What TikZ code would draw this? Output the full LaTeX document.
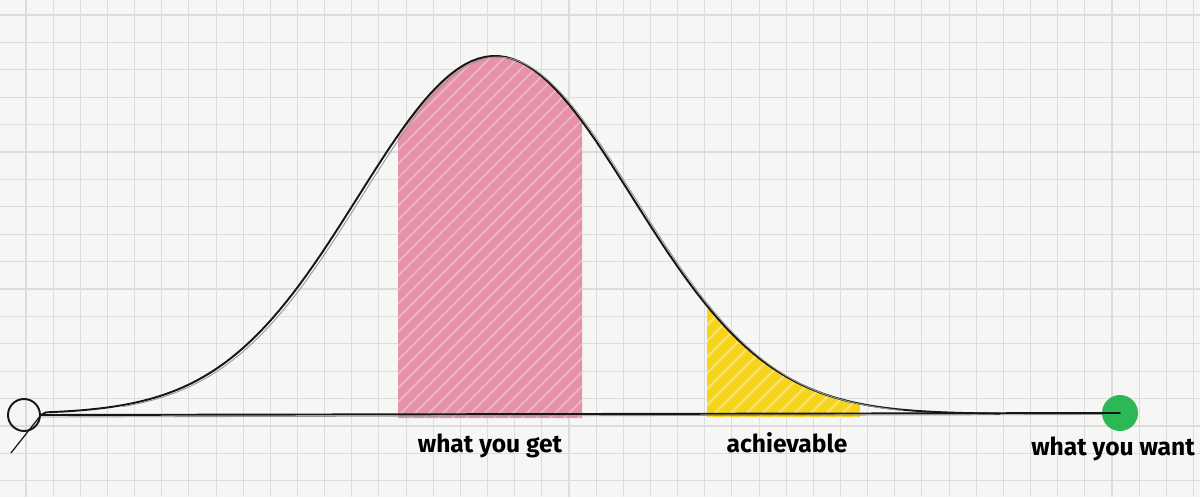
\documentclass[tikz,border=0pt]{standalone}
\usepackage{fontspec}
\setmainfont{Fira Sans}
\usetikzlibrary{positioning}

\definecolor{paper}{RGB}{246,246,245}
\definecolor{gridline}{RGB}{220,220,220}
\definecolor{pinkfill}{RGB}{230,145,168}
\definecolor{yellowfill}{RGB}{247,212,28}
\definecolor{greenfill}{RGB}{44,184,84}
\definecolor{pencil}{RGB}{22,22,22}

\begin{document}
\begin{tikzpicture}[
        x=0.02cm, y=-0.02cm,
        declare function={bell(\t)=414-358*exp(-0.5*((\t-495)/137)^2);},
        pen/.style={draw=pencil, line width=1.1pt, line cap=round},
        ghost/.style={draw=pencil!45, line width=0.5pt, line cap=round},
        hatch/.style={line width=1.2pt, line cap=round},
        handtext/.style={font=\bfseries\fontsize{14}{16}\selectfont, inner sep=0pt, anchor=base},
    ]
    % paper and grid
    \fill[paper] (0,0) rectangle (1200,497);
    \useasboundingbox (0,0) rectangle (1200,497);
    \foreach \i in {0,...,43}
        \draw[gridline, line width=0.6pt] ({26+27.15*\i},0) -- ({26+27.15*\i},497);
    \foreach \j in {0,...,17}
        \draw[gridline, line width=0.6pt] (0,{15+27.4*\j}) -- (1200,{15+27.4*\j});

    % shaded areas under the curve
    \begin{scope}
        \clip (398,418) -- plot[domain=398:582, samples=40] (\x,{bell(\x)}) -- (582,418) -- cycle;
        \fill[pinkfill] (390,40) rectangle (590,420);
        \foreach \k in {0,...,40}
            \draw[hatch, pinkfill!70!white] ({20+14*\k},430) -- ++(420,-420);
    \end{scope}
    \begin{scope}
        \clip (707,417) -- plot[domain=707:860, samples=30] (\x,{bell(\x)}) -- (860,417) -- cycle;
        \fill[yellowfill] (700,290) rectangle (870,420);
        \foreach \k in {0,...,18}
            \draw[hatch, yellowfill!65!white] ({570+16*\k},430) -- ++(150,-150);
    \end{scope}

    % end points
    \node[draw=pencil, line width=1.1pt, circle, minimum size=0.64cm, inner sep=0pt] (origin) at (24,415) {};
    \node[circle, fill=greenfill, minimum size=0.72cm, inner sep=0pt] (goal) at (1120,413) {};

    % axis and bell curve
    \draw[pen] (origin.east) -- (goal.center);
    \draw[ghost] (origin.east) ++(0,2) -- ([yshift=-0.03cm]goal.west);
    \draw[pen] (origin.east) -- plot[domain=46:1000, samples=140] (\x,{bell(\x)});
    \draw[ghost] plot[domain=120:900, samples=100] (\x+3,{bell(\x)+1});
    \draw[pencil, line width=0.7pt] (origin.east) -- ++(-30,38);

    % labels
    \node[handtext] (get) at (490,452) {what you get};
    \node[handtext] (achievable) at (787,452) {achievable};
    \node[handtext] (want) at (1113,455) {what you want};
\end{tikzpicture}
\end{document}
